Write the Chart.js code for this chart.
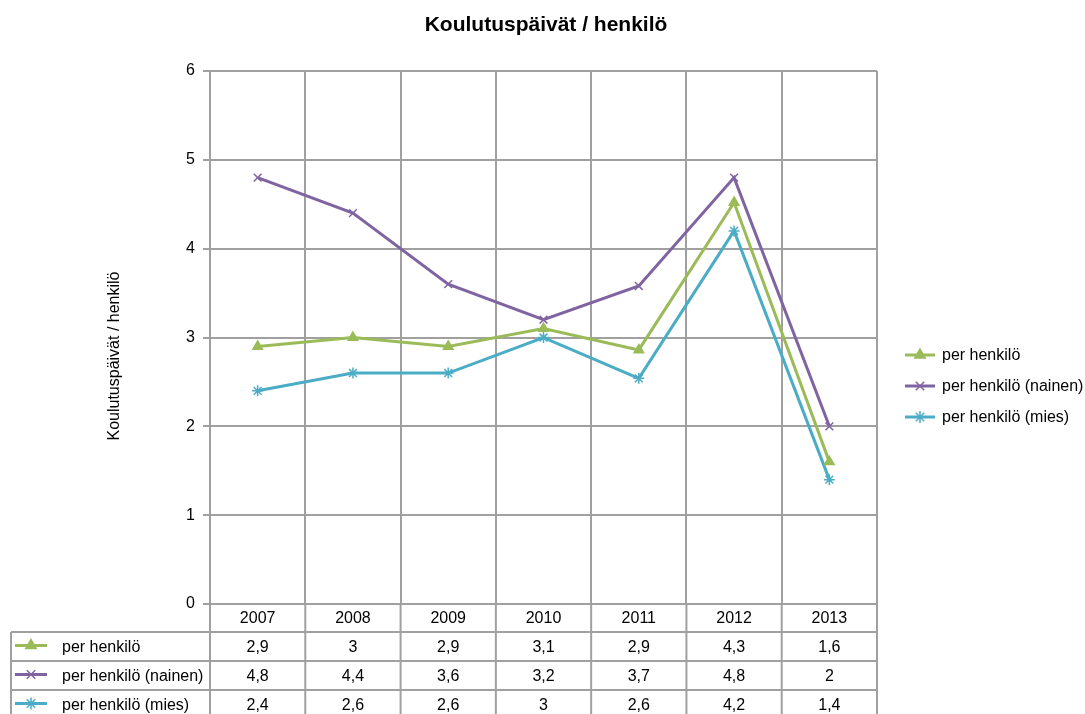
<!DOCTYPE html>
<html>
<head>
<meta charset="utf-8">
<script src="https://cdn.jsdelivr.net/npm/chart.js@4/dist/chart.umd.min.js"></script>
<style>
  html, body { margin: 0; padding: 0; background: #fff; }
</style>
</head>
<body>
<canvas id="myChart" width="1085" height="714"></canvas>
<script>
const years = ["2007", "2008", "2009", "2010", "2011", "2012", "2013"];
const seriesNames = ["per henkilö", "per henkilö (nainen)", "per henkilö (mies)"];
const perHenkilo = [2.9, 3.0, 2.9, 3.1, 2.86, 4.52, 1.6];
const perNainen = [4.8, 4.4, 3.6, 3.2, 3.58, 4.8, 2.0];
const perMies = [2.4, 2.6, 2.6, 3.0, 2.54, 4.2, 1.4];
// values as printed in the data table under the chart
const tableHenkilo = ["2,9", "3", "2,9", "3,1", "2,9", "4,3", "1,6"];
const tableNainen = ["4,8", "4,4", "3,6", "3,2", "3,7", "4,8", "2"];
const tableMies = ["2,4", "2,6", "2,6", "3", "2,6", "4,2", "1,4"];
const yTicks = [0, 1, 2, 3, 4, 5, 6];

const colors = ["#9BBB59", "#8064A2", "#4BACC6"];
const styles = ["triangle", "crossRot", "star"];
const gridColor = "#a0a0a0";
const FONT = "'Liberation Sans', Arial, sans-serif";

function marker(ctx, i, x, y, lineLen) {
  ctx.save();
  ctx.strokeStyle = colors[i];
  ctx.fillStyle = colors[i];
  ctx.lineWidth = 3;
  ctx.beginPath();
  ctx.moveTo(x - lineLen / 2, y);
  ctx.lineTo(x + lineLen / 2, y);
  ctx.stroke();
  ctx.lineWidth = 1.5;
  Chart.helpers.drawPoint(ctx, { pointStyle: styles[i], radius: 6, rotation: 0, borderWidth: 1.5 }, x, y);
  ctx.restore();
}

const extras = {
  id: "extras",
  afterDraw(chart) {
    const ctx = chart.ctx;
    const xs = chart.scales.x;
    const area = chart.chartArea;
    const half = (xs.getPixelForValue(1) - xs.getPixelForValue(0)) / 2;
    const tableLeft = 11;
    const headTop = area.bottom, rowTop = 632, rowH = 29;
    const rows = [tableHenkilo, tableNainen, tableMies];

    ctx.save();
    // title
    ctx.fillStyle = "#000";
    ctx.textAlign = "center";
    ctx.textBaseline = "middle";
    ctx.font = "bold 21px " + FONT;
    ctx.fillText("Koulutuspäivät / henkilö", 546, 25);

    // y axis title
    ctx.save();
    ctx.translate(115, 356);
    ctx.rotate(-Math.PI / 2);
    ctx.font = "16px " + FONT;
    ctx.fillText("Koulutuspäivät / henkilö", 0, 0);
    ctx.restore();

    // data table grid
    ctx.strokeStyle = gridColor;
    ctx.lineWidth = 2;
    ctx.beginPath();
    for (let i = 0; i <= years.length; i++) {
      const x = xs.getPixelForValue(0) - half + i * half * 2;
      ctx.moveTo(x, headTop);
      ctx.lineTo(x, 714);
    }
    ctx.moveTo(tableLeft, rowTop);
    ctx.lineTo(tableLeft, 714);
    for (let r = 0; r < 3; r++) {
      ctx.moveTo(tableLeft, rowTop + r * rowH);
      ctx.lineTo(area.right, rowTop + r * rowH);
    }
    ctx.stroke();

    // table text
    ctx.font = "16px " + FONT;
    ctx.fillStyle = "#000";
    years.forEach((y, i) => {
      ctx.fillText(y, xs.getPixelForValue(i), (headTop + rowTop) / 2 + 1);
    });
    rows.forEach((row, r) => {
      const cy = rowTop + r * rowH + rowH / 2 + 1;
      row.forEach((t, i) => ctx.fillText(t, xs.getPixelForValue(i), cy));
      marker(ctx, r, 31, cy - 2, 32);
      ctx.textAlign = "left";
      ctx.fillStyle = "#000";
      ctx.fillText(seriesNames[r], 62, cy);
      ctx.textAlign = "center";
    });

    // legend on the right
    seriesNames.forEach((name, i) => {
      const cy = 355 + i * 31;
      marker(ctx, i, 920, cy, 30);
      ctx.textAlign = "left";
      ctx.fillStyle = "#000";
      ctx.fillText(name, 942, cy + 1);
    });
    ctx.restore();
  }
};

new Chart("myChart", {
  type: "line",
  data: {
    labels: years,
    datasets: [perHenkilo, perNainen, perMies].map((d, i) => ({
      label: seriesNames[i],
      data: d,
      borderColor: colors[i],
      backgroundColor: colors[i],
      borderWidth: 3,
      pointStyle: styles[i],
      pointRadius: 5.5,
      pointBorderWidth: 1.5,
      pointBorderColor: colors[i],
      pointBackgroundColor: colors[i],
      tension: 0
    }))
  },
  options: {
    responsive: false,
    animation: false,
    layout: { padding: { top: 71, right: 208, left: 0, bottom: 0 } },
    plugins: {
      legend: { display: false },
      title: { display: false },
      tooltip: { enabled: false }
    },
    scales: {
      x: {
        offset: true,
        grid: { offset: true, color: gridColor, lineWidth: 2, drawTicks: false },
        border: { color: gridColor, width: 2 },
        ticks: { display: false },
        afterFit: s => { s.height = 110; }
      },
      y: {
        min: 0,
        max: 6,
        afterBuildTicks: s => { s.ticks = yTicks.map(v => ({ value: v })); },
        ticks: { color: "#000", font: { family: FONT, size: 16 }, padding: 8 },
        grid: { color: gridColor, lineWidth: 2, tickLength: 7 },
        border: { color: gridColor, width: 2 },
        afterFit: s => { s.width = 210; }
      }
    }
  },
  plugins: [extras]
});
</script>
</body>
</html>
